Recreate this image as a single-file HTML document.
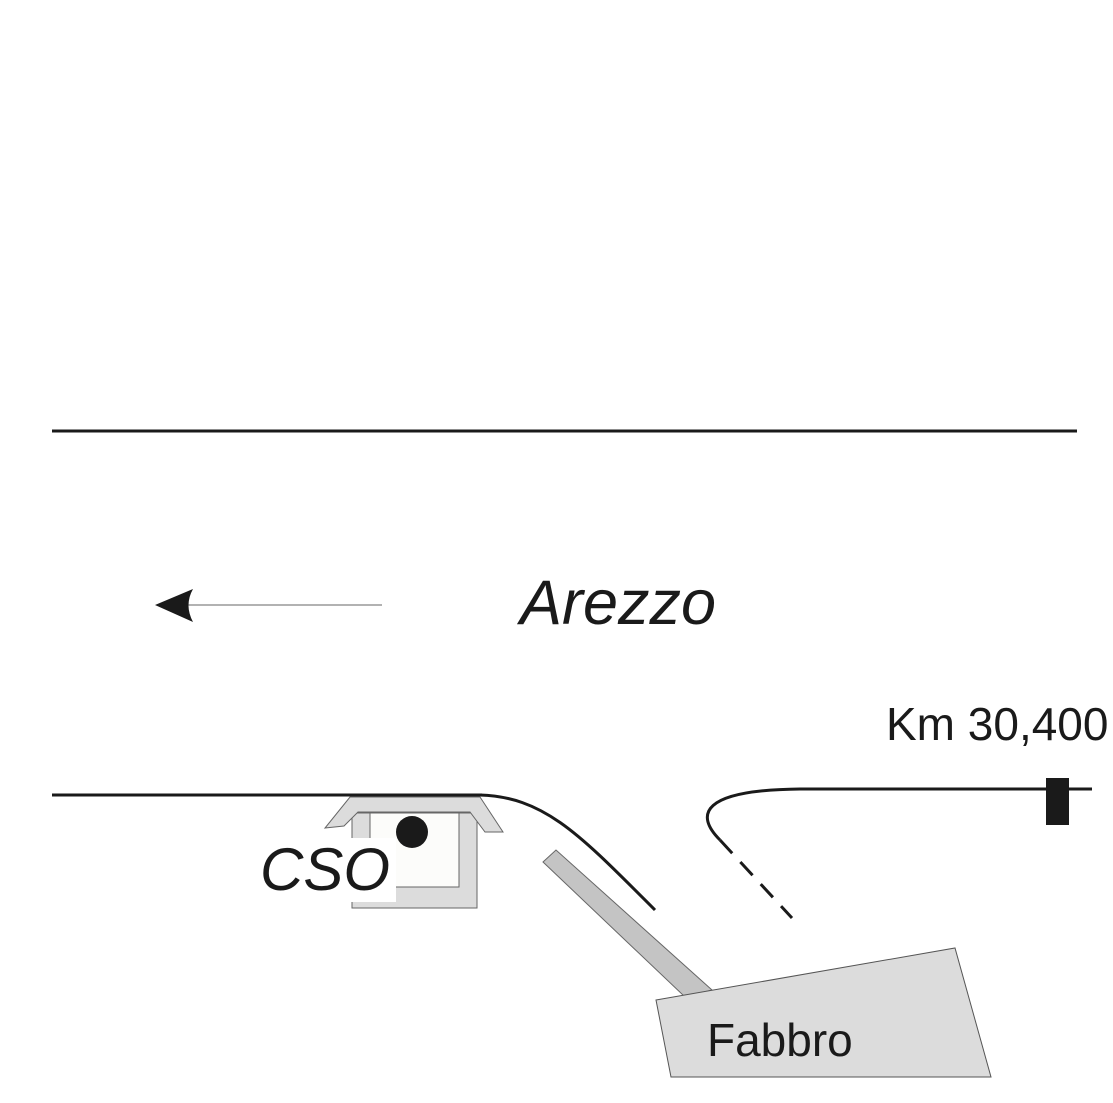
<!DOCTYPE html>
<html><head><style>html,body{margin:0;padding:0;background:#fff}svg{display:block}</style></head>
<body>
<svg width="1113" height="1103" viewBox="0 0 1113 1103" xmlns="http://www.w3.org/2000/svg">
<line x1="52" y1="431" x2="1077" y2="431" stroke="#1a1a1a" stroke-width="3"/>
<line x1="188" y1="605" x2="382" y2="605" stroke="#999" stroke-width="1.5"/>
<path d="M155,605 L193,589 Q184,605 193,622 Z" fill="#1a1a1a"/>
<text x="520" y="624" font-family="Liberation Sans, sans-serif" font-style="italic" font-size="63" fill="#1a1a1a">Arezzo</text>
<text x="886" y="740" font-family="Liberation Sans, sans-serif" font-size="46" fill="#1a1a1a">Km 30,400</text>
<rect x="352" y="813" width="125" height="95" fill="#dcdcdc" stroke="#666" stroke-width="1"/>
<rect x="370" y="813" width="89" height="74" fill="#fcfcfa" stroke="#666" stroke-width="1"/>
<path d="M350,797 L480,797 L503,832 L485,832 L470,812 L358,812 L344,826 L325,828 Z" fill="#dcdcdc" stroke="#666" stroke-width="1"/>
<rect x="300" y="838" width="96" height="64" fill="#fff"/>
<circle cx="412" cy="832" r="16" fill="#1a1a1a"/>
<text x="260" y="890" font-family="Liberation Sans, sans-serif" font-style="italic" font-size="60" fill="#1a1a1a">CSO</text>
<line x1="52" y1="795" x2="482" y2="795" stroke="#1a1a1a" stroke-width="3"/>
<path d="M480,795 C545,797 580,835 655,910" fill="none" stroke="#1a1a1a" stroke-width="3"/>
<polygon points="543,862 556,850 712,990 685,997" fill="#c4c4c4" stroke="#666" stroke-width="1"/>
<polygon points="656,1000 955,948 991,1077 671,1077" fill="#dcdcdc" stroke="#555" stroke-width="1"/>
<text x="707" y="1056" font-family="Liberation Sans, sans-serif" font-size="46" fill="#1a1a1a">Fabbro</text>
<path d="M1092,789 L800,789 C700,790 695,815 720,840" fill="none" stroke="#1a1a1a" stroke-width="3"/>
<path d="M720,840 L792,918" fill="none" stroke="#1a1a1a" stroke-width="3" stroke-dasharray="18,12"/>
<rect x="1046" y="778" width="23" height="47" fill="#1a1a1a"/>
</svg>
</body></html>
